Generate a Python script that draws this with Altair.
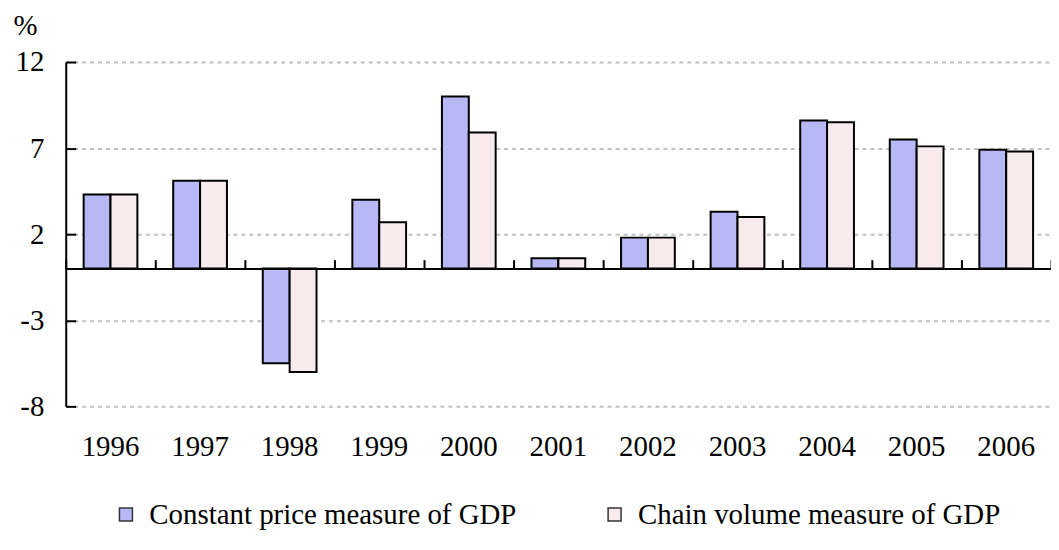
import altair as alt
import pandas as pd

years = ["1996", "1997", "1998", "1999", "2000", "2001", "2002", "2003", "2004", "2005", "2006"]
constant = [4.3, 5.1, -5.5, 4.0, 10.0, 0.6, 1.8, 3.3, 8.6, 7.5, 6.9]
chain = [4.3, 5.1, -6.0, 2.7, 7.9, 0.6, 1.8, 3.0, 8.5, 7.1, 6.8]
series = ["Constant price measure of GDP", "Chain volume measure of GDP"]
y_ticks = [-8, -3, 2, 7, 12]

rows = []
for i, yr in enumerate(years):
    rows.append({"year": yr, "series": series[0], "value": constant[i]})
    rows.append({"year": yr, "series": series[1], "value": chain[i]})
df = pd.DataFrame(rows)

FONT = "Times New Roman, Liberation Serif, serif"
FS = 29
W, H = 990, 346
YMIN, YMAX = -8, 12
zero_off = -(H * YMAX / (YMAX - YMIN))

xscale = alt.Scale(type="band", paddingInner=0.4, paddingOuter=0.2)
xscale_full = alt.Scale(type="band", paddingInner=0, paddingOuter=0)
yscale = alt.Scale(domain=[YMIN, YMAX], nice=False, zero=False)
cscale = alt.Scale(domain=series, range=["#B8B8F6", "#F7EBEE"])

bars = alt.Chart(df).mark_bar(stroke="black", strokeWidth=2).encode(
    x=alt.X("year:N", sort=years, scale=xscale,
            axis=alt.Axis(orient="bottom", domain=False, ticks=False, labelAngle=0,
                          labelFont=FONT, labelFontSize=FS, labelColor="black",
                          labelPadding=26, title=None, grid=False)),
    xOffset=alt.XOffset("series:N", sort=series),
    y=alt.Y("value:Q", scale=yscale,
            axis=alt.Axis(orient="left", values=y_ticks, ticks=False,
                          domain=True, domainColor="black", domainWidth=2,
                          labelFont=FONT, labelFontSize=FS, labelColor="black",
                          labelPadding=22, labelExpr="toString(datum.value)",
                          grid=True, gridColor="#C0C0C0", gridDash=[4, 4], gridWidth=2,
                          title="%", titleAngle=0, titleX=-41, titleY=-37,
                          titleAlign="center", titleBaseline="middle",
                          titleFont=FONT, titleFontSize=FS, titleFontWeight="normal",
                          titleColor="black")),
    fill=alt.Fill("series:N", scale=cscale, sort=series,
                  legend=alt.Legend(orient="none", legendX=46, legendY=440,
                                    direction="horizontal", title=None,
                                    symbolType="square", symbolSize=170,
                                    symbolStrokeColor="#333333", symbolStrokeWidth=1.5,
                                    labelFont=FONT, labelFontSize=FS, labelColor="black",
                                    labelLimit=800, labelOffset=9, columnPadding=84)),
)

guides = alt.Chart(df).mark_bar(opacity=0).encode(
    x=alt.X("year:N", sort=years, scale=xscale_full,
            axis=alt.Axis(orient="top", offset=zero_off, domain=True, domainColor="black",
                          domainWidth=2, ticks=True, tickBand="extent", tickSize=9,
                          tickWidth=2, tickColor="black", labels=False, title=None,
                          grid=False, zindex=1)),
    y=alt.Y("value:Q", scale=yscale,
            axis=alt.Axis(orient="right", offset=-W, values=y_ticks, ticks=True,
                          tickSize=10, tickWidth=2, tickColor="black", labels=False,
                          domain=False, grid=False, title=None, zindex=1)),
)

chart = alt.layer(bars, guides).resolve_scale(x="independent").resolve_axis(
    x="independent", y="independent"
).properties(
    width=W, height=H,
    autosize=alt.AutoSizeParams(type="none"),
    padding={"left": 58, "top": 53, "right": 0, "bottom": 130},
).configure_view(stroke=None)

chart.save("out.html", embed_options={"renderer": "svg", "actions": False})
